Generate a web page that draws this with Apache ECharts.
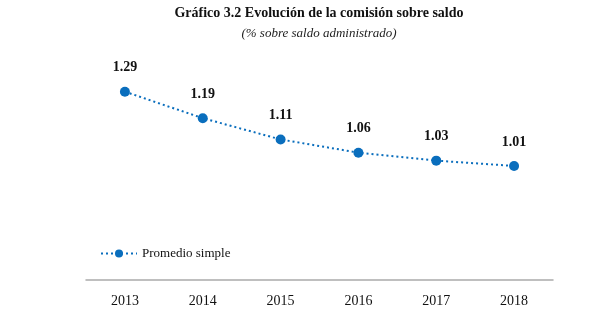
<!DOCTYPE html>
<html><head><meta charset="utf-8">
<script src="https://cdn.jsdelivr.net/npm/echarts@6/dist/echarts.min.js"></script>
<style>html,body{margin:0;padding:0;background:#fff}#c{width:599px;height:321px}</style>
</head><body><div id="c"></div>
<script>
const categories = ['2013','2014','2015','2016','2017','2018'];
const values = [1.29, 1.19, 1.11, 1.06, 1.03, 1.01];
const seriesName = 'Promedio simple';
const titleText = 'Gráfico 3.2 Evolución de la comisión sobre saldo';
const subtitleText = '(% sobre saldo administrado)';

const chart = echarts.init(document.getElementById('c'), null, {renderer: 'canvas'});
const serif = '"Liberation Serif", "DejaVu Serif", serif';
chart.setOption({
  animation: false,
  backgroundColor: '#fff',
  title: {
    text: titleText,
    subtext: subtitleText,
    left: 319,
    textAlign: 'center',
    top: 6,
    padding: 0,
    itemGap: 7,
    textStyle: {fontFamily: serif, fontSize: 14, fontWeight: 'bold', color: '#111'},
    subtextStyle: {fontFamily: serif, fontSize: 13, fontStyle: 'italic', color: '#222'}
  },
  legend: {
    left: 95, top: 242,
    itemWidth: 36, itemHeight: 10,
    itemGap: 4,
    textStyle: {fontFamily: serif, fontSize: 13, color: '#111'},
    data: [seriesName]
  },
  grid: {left: 86, right: 46, top: 62.5, bottom: 41},
  xAxis: {
    type: 'category',
    data: categories,
    boundaryGap: true,
    axisLine: {lineStyle: {color: '#aaa', width: 1.5}},
    axisTick: {show: false},
    axisLabel: {fontFamily: serif, fontSize: 14, color: '#111', margin: 14}
  },
  yAxis: {
    type: 'value', min: 0.58, max: 1.4,
    show: false, splitLine: {show: false}
  },
  series: [{
    name: seriesName,
    type: 'line',
    data: values,
    symbol: 'circle',
    symbolSize: 10,
    itemStyle: {color: '#0A6EBD'},
    lineStyle: {color: '#0A6EBD', width: 2, type: [2, 3]},
    label: {
      show: true, position: 'top', distance: 12,
      fontFamily: serif, fontSize: 14, fontWeight: 'bold', color: '#111',
      formatter: p => p.value.toFixed(2)
    }
  }]
});
</script></body></html>
